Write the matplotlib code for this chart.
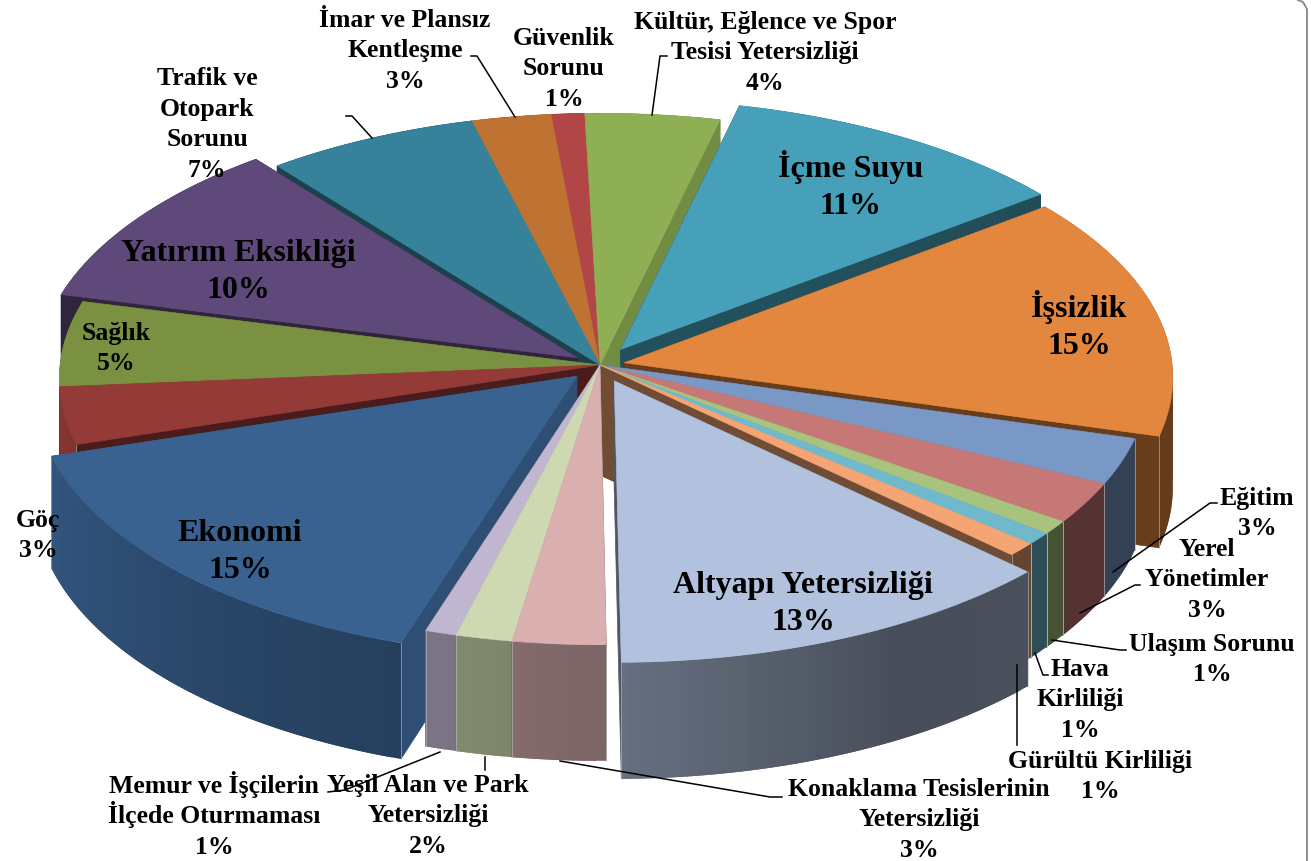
import numpy as np
import matplotlib
matplotlib.use('Agg')
import matplotlib.pyplot as plt

# clockwise, starting from the slice at the top. Shares,
# the labels give them only rounded
names = ['Kültür', 'İçme Suyu', 'İşsizlik', 'Eğitim', 'Yerel Yönetimler', 'Ulaşım Sorunu',
         'Hava Kirliliği', 'Gürültü Kirliliği', 'Altyapı Yetersizliği', 'Konaklama',
         'Yeşil Alan', 'Memur', 'Ekonomi', 'Göç', 'Sağlık', 'Yatırım Eksikliği',
         'Trafik', 'İmar', 'Güvenlik']
values = [4.17, 10.9, 14.8, 2.8, 2.5, .83, .75, .83, 12.7, 2.64, 1.6, .89, 15.25, 3.48,
          5.2, 10.4, 6.67, 2.5, 1.05]

explode = [0, .07, .045, 0, 0, 0, 0, 0, .065, 0, 0, 0, .06, 0, 0, .05, 0, 0, 0]
colors = ['#8FAF55', '#46A0B9', '#E4873E', '#7A98C6', '#C67876', '#A8C37D', '#70B9CD',
          '#F5A573', '#B2C2DE', '#D9AFAF', '#CED9B2', '#C0B6CF', '#3A6291', '#943A37',
          '#7A9141', '#5F497A', '#37829B', '#BE7332', '#B24646']
cut_shade = [.8, .5, .45, .5, .5, .5, .5, .46, .45, .5, .5, .5, .8, .5, .5, .5, .5, .5, .5]

START = -1.7
CX, CY, RX, RXL, RY, K, H = 600., 365., 548., 540., 265., .0526, 110.

shade_ang = [0, 14, 16, 90, 150, 180, 220, 270, 283, 360]
shade_val = [.8, .8, .5, .45, .40, .58, .72, .95, .5, .5]


def proj(u, v, z=0.):
    w = 1 + K*v
    return CX + np.where(np.asarray(u) > 0, RX, RXL)*u/w, CY - RY*v/w + H*z/w


def rgb(c, f):
    return tuple(x*f for x in matplotlib.colors.to_rgb(c))


fig = plt.figure(figsize=(13.11, 8.61), dpi=100)
ax = fig.add_axes([0, 0, 1, 1])
ax.set_xlim(0, 1311)
ax.set_ylim(861, 0)
ax.axis('off')

total = float(sum(values))
edges = START + np.cumsum([0] + values)*360./total
mids = (edges[:-1] + edges[1:])/2.
order = np.argsort(-np.cos(np.radians(mids)))
shapes = []
for i in range(len(values)):
    du = explode[i]*np.sin(np.radians(mids[i]))
    dv = explode[i]*np.cos(np.radians(mids[i]))
    th = np.radians(np.arange(edges[i], edges[i+1], 1.).tolist() + [edges[i+1]])
    shapes.append((du, dv, th, np.sin(th) + du, np.cos(th) + dv))

# all walls first, back to front
for i in order:
    du, dv, th, us, vs = shapes[i]
    col = colors[i]
    for a in (0, -1):
        x0, y0 = proj(du, dv)
        x1, y1 = proj(us[a], vs[a])
        x2, y2 = proj(us[a], vs[a], 1)
        x3, y3 = proj(du, dv, 1)
        c = rgb(col, cut_shade[i])
        ax.fill([x0, x1, x2, x3], [y0, y1, y2, y3], fc=c, ec=c, lw=.5, zorder=1)
    # outer wall in strips, each one overlapping the next
    for j in range(len(th)-1):
        k = min(j+2, len(th)-1)
        xa, ya = proj(us[j], vs[j])
        xb, yb = proj(us[k], vs[k])
        xc, yc = proj(us[k], vs[k], 1)
        xd, yd = proj(us[j], vs[j], 1)
        f = np.interp((np.degrees(th[j]) + .5) % 360, shade_ang, shade_val)
        ax.fill([xa, xb, xc, xd], [ya, yb, yc, yd], fc=rgb(col, f), lw=0, zorder=1)
    # thin light seams between the wall segments
    for a in (0, -1):
        if np.cos(th[a]) < -.1:
            xa, ya = proj(us[a], vs[a])
            xd, yd = proj(us[a], vs[a], 1)
            ax.plot([xa, xd], [ya, yd], color='#B8BCC0', lw=.6, alpha=.7, zorder=1)

# then the tops
for i in order:
    du, dv, th, us, vs = shapes[i]
    xs, ys = proj(us, vs)
    x0, y0 = proj(du, dv)
    ax.fill(np.r_[x0, xs], np.r_[y0, ys], fc=colors[i], ec=colors[i], lw=.4, zorder=2)

# leader lines
leaders = [
    ([1113, 1210, 1217], [572, 503, 503]),
    ([1080, 1135, 1140], [613, 585, 585]),
    ([1052, 1120, 1126], [640, 650, 650]),
    ([1035, 1043, 1048], [653, 675, 675]),
    ([1017, 1017], [665, 745]),
    ([560, 770, 782], [761, 797, 797]),
    ([485, 485], [757, 770]),
    ([440, 345, 328], [752, 790, 792]),
    ([372, 352, 346], [138, 116, 116]),
    ([515, 477, 471], [117, 56, 56]),
    ([652, 660, 667], [115, 56, 56]),
]
for lx, ly in leaders:
    ax.plot(lx, ly, color='black', lw=1.1, zorder=3)

labels = [
    ('Kültür, Eğlence ve Spor\nTesisi Yetersizliği\n4%', 765, 52, 18.5),
    ('İmar ve Plansız\nKentleşme\n3%', 405, 50, 18.5),
    ('Güvenlik\nSorunu\n1%', 564, 68, 18.5),
    ('Trafik ve\nOtopark\nSorunu\n7%', 207, 124, 18.5),
    ('Yatırım Eksikliği\n10%', 238, 271, 23),
    ('İçme Suyu\n11%', 851, 187, 23),
    ('İşsizlik\n15%', 1079, 327, 23),
    ('Ekonomi\n15%', 240, 551, 23),
    ('Altyapı Yetersizliği\n13%', 803, 603, 23),
    ('Sağlık\n5%', 116, 348, 18.5),
    ('Göç\n3%', 38, 535, 18.5),
    ('Eğitim\n3%', 1257, 513, 18.5),
    ('Yerel\nYönetimler\n3%', 1207, 579, 18.5),
    ('Ulaşım Sorunu\n1%', 1212, 659, 18.5),
    ('Hava\nKirliliği\n1%', 1080, 699, 18.5),
    ('Gürültü Kirliliği\n1%', 1100, 776, 18.5),
    ('Konaklama Tesislerinin\nYetersizliği\n3%', 919, 819, 18.5),
    ('Yeşil Alan ve Park\nYetersizliği\n2%', 428, 815, 18.5),
    ('Memur ve İşçilerin\nİlçede Oturmaması\n1%', 214, 816, 18.5),
]
# every line on its own baseline, the pitch of the reference is not quite regular
for txt, x, y, size in labels:
    lines = txt.split('\n')
    pitch = 30.5 if size < 20 else 36.5
    for n, line in enumerate(lines):
        ax.text(x, y + (n - (len(lines) - 1)/2.)*pitch + size*.38, line, ha='center',
                va='baseline', family='Liberation Serif', weight='bold', fontsize=size,
                color='black', zorder=4)

# frame at the right edge of the slide
ax.plot([1298, 1303, 1307, 1307], [0, 2, 9, 861], color='#8C8C8C', lw=1.4)

fig.savefig('out.png', dpi=100)
